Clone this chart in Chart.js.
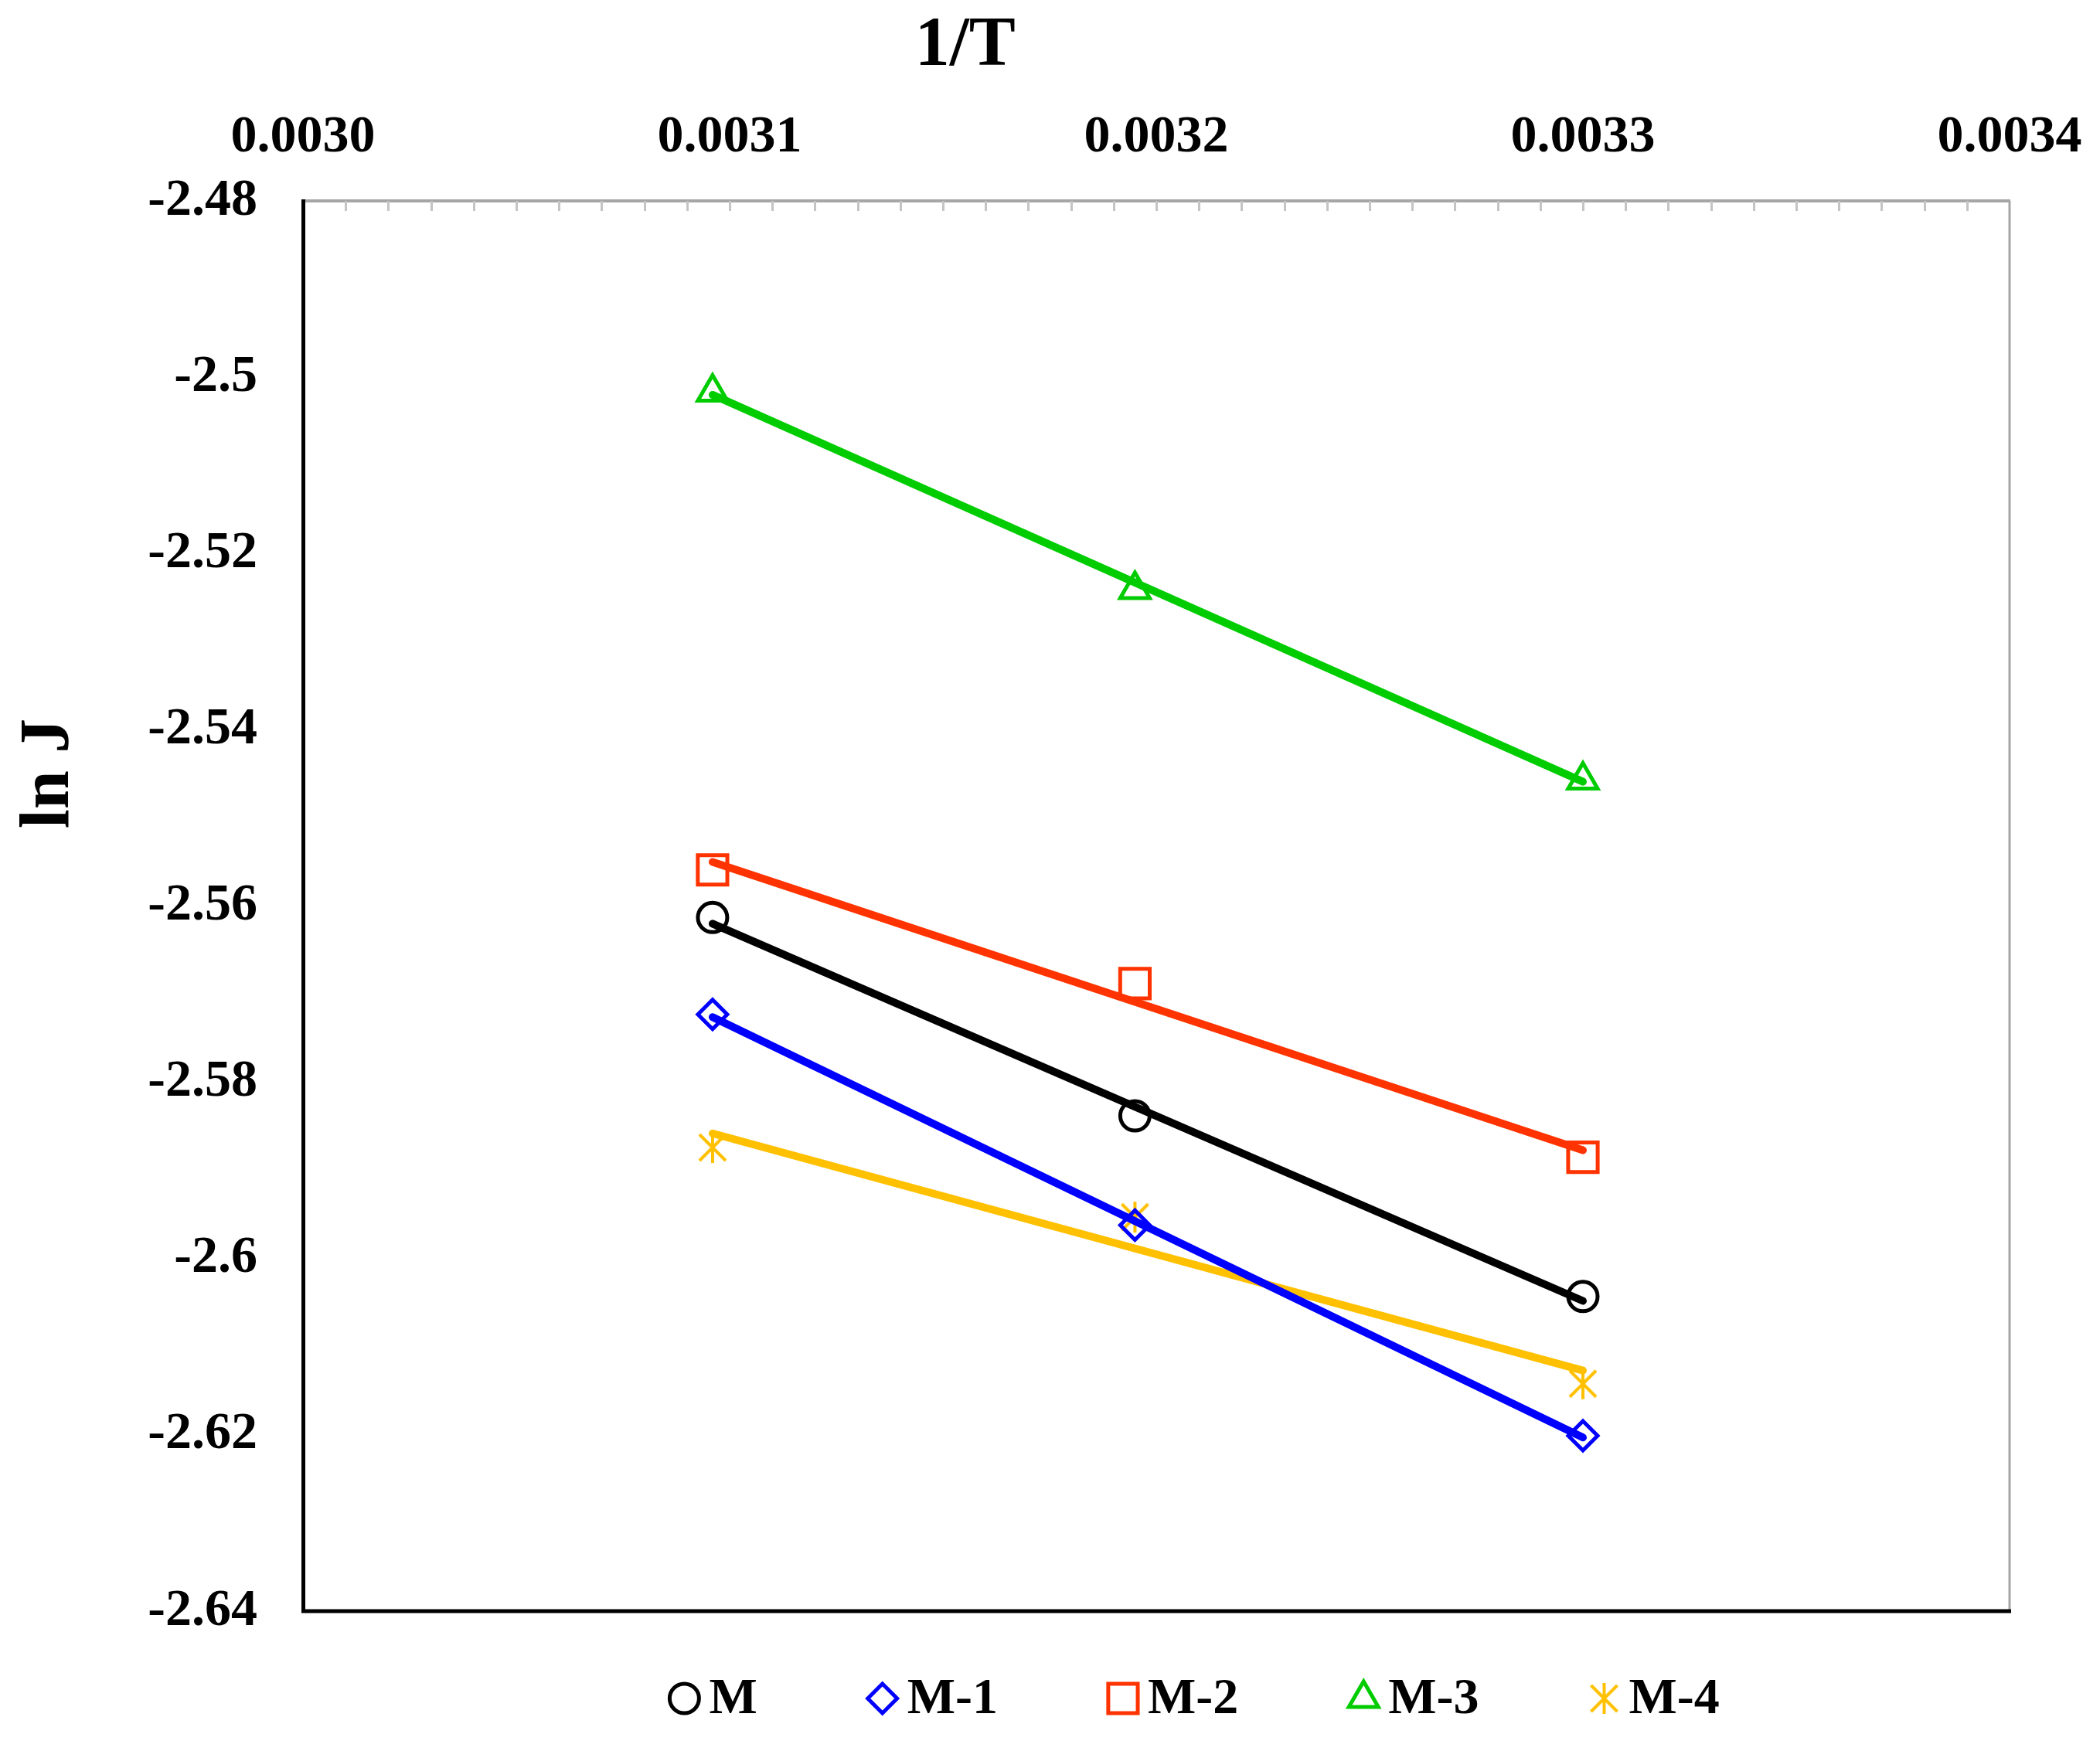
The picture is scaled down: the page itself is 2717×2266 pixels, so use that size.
<!DOCTYPE html>
<html>
<head>
<meta charset="utf-8">
<title>ln J vs 1/T</title>
<script src="https://cdn.jsdelivr.net/npm/chart.js@4.4.1/dist/chart.umd.min.js"></script>
<style>
    html, body { margin: 0; padding: 0; background: #fff; }
    canvas { display: block; }
</style>
</head>
<body>
<canvas id="canvas_lnJ" width="2717" height="2266"></canvas>
<script>
// 1/T (K^-1) at 50, 40 and 30 °C
const invT = [0.003096, 0.003195, 0.0033];

const seriesNames = ['M', 'M-1', 'M-2', 'M-3', 'M-4'];
const lnJ_M  = [-2.5613, -2.5838, -2.6043];
const lnJ_M1 = [-2.5723, -2.5962, -2.6201];
const lnJ_M2 = [-2.5559, -2.5688, -2.5885];
const lnJ_M3 = [-2.5017, -2.5241, -2.5457];
const lnJ_M4 = [-2.5874, -2.5953, -2.6142];

// linear trendlines: value at first and last 1/T
const trend_M  = [-2.5620, -2.6048];
const trend_M1 = [-2.5726, -2.6203];
const trend_M2 = [-2.5550, -2.5877];
const trend_M3 = [-2.5020, -2.5459];
const trend_M4 = [-2.5858, -2.6127];

const xTicks = [0.0030, 0.0031, 0.0032, 0.0033, 0.0034];
const yTicks = [-2.48, -2.5, -2.52, -2.54, -2.56, -2.58, -2.6, -2.62, -2.64];
const xMinorStep = 0.00001;

const serif = "'Times New Roman', 'Liberation Serif', serif";
const colors = ['#000000', '#0000FF', '#FF3300', '#00CC00', '#FFC000'];

function makeStar(color, size) {
    const c = document.createElement('canvas');
    c.width = size;
    c.height = size;
    const g = c.getContext('2d');
    g.strokeStyle = color;
    g.lineWidth = 4;
    const m = 4;
    g.beginPath();
    g.moveTo(m, m); g.lineTo(size - m, size - m);
    g.moveTo(size - m, m); g.lineTo(m, size - m);
    g.moveTo(size / 2, 1); g.lineTo(size / 2, size - 1);
    g.stroke();
    return c;
}

const styles = ['circle', 'rectRot', 'rect', 'triangle', makeStar(colors[4], 42)];
const radii = [19, 19, 27, 22, 19];
const points = [lnJ_M, lnJ_M1, lnJ_M2, lnJ_M3, lnJ_M4];
const trends = [trend_M, trend_M1, trend_M2, trend_M3, trend_M4];

const datasets = [];
seriesNames.forEach((name, i) => {
    datasets.push({
        label: name + ' (linear)',
        data: [{ x: invT[0], y: trends[i][0] }, { x: invT[invT.length - 1], y: trends[i][1] }],
        showLine: true,
        borderColor: colors[i],
        borderWidth: 10,
        borderCapStyle: 'round',
        pointRadius: 0,
        order: 0
    });
    datasets.push({
        label: name,
        data: invT.map((x, j) => ({ x: x, y: points[i][j] })),
        showLine: false,
        pointStyle: styles[i],
        pointRadius: radii[i],
        pointBorderColor: colors[i],
        pointBackgroundColor: 'rgba(0,0,0,0)',
        pointBorderWidth: 5,
        order: 1
    });
});

// right/bottom frame + minor ticks along the top axis
const framePlugin = {
    id: 'frame',
    beforeDatasetsDraw(chart) {
        const { ctx, chartArea: a } = chart;
        const xs = chart.scales.x;
        ctx.save();
        ctx.strokeStyle = '#c4c4c4';
        ctx.lineWidth = 3;
        ctx.beginPath();
        for (let v = xs.min + xMinorStep; v < xs.max - xMinorStep / 2; v += xMinorStep) {
            const px = Math.round(xs.getPixelForValue(v)) + 0.5;
            ctx.moveTo(px, a.top);
            ctx.lineTo(px, a.top + 13);
        }
        ctx.stroke();

        ctx.strokeStyle = '#a6a6a6';
        ctx.lineWidth = 3;
        ctx.beginPath();
        ctx.moveTo(a.right, a.top);
        ctx.lineTo(a.right, a.bottom);
        ctx.stroke();

        ctx.strokeStyle = '#000';
        ctx.lineWidth = 5;
        ctx.beginPath();
        ctx.moveTo(a.left - 2, a.bottom);
        ctx.lineTo(a.right + 2, a.bottom);
        ctx.stroke();
        ctx.restore();
    }
};

// axis titles, placed as in the original
const titlePlugin = {
    id: 'titles',
    afterDraw(chart) {
        const { ctx, chartArea: a } = chart;
        ctx.save();
        ctx.fillStyle = '#000';
        ctx.font = 'bold 90px ' + serif;
        ctx.textAlign = 'center';
        ctx.textBaseline = 'middle';
        ctx.fillText('1/T', a.left + (a.right - a.left) * 0.388, a.top - 199);

        ctx.translate(65, a.top + (a.bottom - a.top) * 0.406);
        ctx.rotate(-Math.PI / 2);
        ctx.fillText('ln J', 0, 0);
        ctx.restore();
    }
};

// legend row under the plot
const legendPlugin = {
    id: 'bottomLegend',
    afterDraw(chart) {
        const { ctx, chartArea: a } = chart;
        const gap = 32, spacing = 162, half = 21;
        ctx.save();
        ctx.font = 'bold 66px ' + serif;
        ctx.textBaseline = 'middle';
        ctx.textAlign = 'left';
        const widths = seriesNames.map(n => ctx.measureText(n).width);
        let total = half;
        widths.forEach((w, i) => { total += gap + w + (i < widths.length - 1 ? spacing : 0); });
        let cx = a.left + (a.right - a.left) * 0.522 - total / 2 + half;
        const y = 2198;
        seriesNames.forEach((name, i) => {
            ctx.fillStyle = 'rgba(0,0,0,0)';
            ctx.strokeStyle = colors[i];
            ctx.lineWidth = 5;
            Chart.helpers.drawPoint(ctx, {
                pointStyle: styles[i],
                rotation: 0,
                radius: radii[i],
                borderWidth: 5
            }, cx, y);
            ctx.fillStyle = '#000';
            ctx.fillText(name, cx + gap, y + 2);
            cx += gap + widths[i] + spacing;
        });
        ctx.restore();
    }
};

const tickFont = { family: serif, size: 68, weight: 'bold' };

new Chart(document.getElementById('canvas_lnJ').getContext('2d'), {
    type: 'scatter',
    data: { datasets: datasets },
    options: {
        responsive: false,
        devicePixelRatio: 1,
        animation: false,
        layout: { padding: { left: 0, top: 0, right: 117, bottom: 181 } },
        plugins: {
            legend: { display: false },
            tooltip: { enabled: false }
        },
        scales: {
            x: {
                type: 'linear',
                position: 'top',
                min: xTicks[0],
                max: xTicks[xTicks.length - 1],
                afterBuildTicks: (s) => { s.ticks = xTicks.map(v => ({ value: v })); },
                afterFit: (s) => {
                    s.height = 260;
                    s.paddingLeft = 0;
                    s.paddingRight = 0;
                },
                grid: { display: false, drawTicks: false },
                border: { display: true, color: '#a6a6a6', width: 4 },
                ticks: {
                    color: '#000',
                    font: tickFont,
                    padding: 41,
                    maxRotation: 0,
                    autoSkip: false,
                    callback: (v) => Number(v).toFixed(4)
                }
            },
            y: {
                type: 'linear',
                position: 'left',
                min: yTicks[yTicks.length - 1],
                max: yTicks[0],
                afterBuildTicks: (s) => { s.ticks = yTicks.map(v => ({ value: v })); },
                afterFit: (s) => {
                    s.width = 392;
                    s.paddingTop = 0;
                    s.paddingBottom = 0;
                },
                grid: { display: false, drawTicks: false },
                border: { display: true, color: '#000', width: 5 },
                ticks: {
                    color: '#000',
                    font: tickFont,
                    padding: 59,
                    autoSkip: false,
                    callback: (v) => String(parseFloat(Number(v).toFixed(2)))
                }
            }
        }
    },
    plugins: [framePlugin, titlePlugin, legendPlugin]
});
</script>
</body>
</html>
